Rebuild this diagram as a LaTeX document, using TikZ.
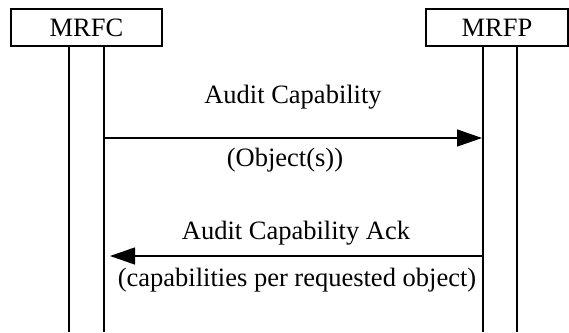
\documentclass[tikz,border=0pt]{standalone}
\usepackage{fontspec}
\setmainfont{Liberation Serif}
\usetikzlibrary{arrows.meta}
\tikzset{
    entity/.style={draw, line width=1.3pt, minimum width=#1, minimum height=37pt, inner sep=0pt, font=\fontsize{26.5}{30}\selectfont},
    msg/.style={line width=1.3pt, -{Triangle[length=25pt,width=17pt]}},
    lbl/.style={font=\fontsize{26.5}{30}\selectfont, inner sep=0pt}
}
\begin{document}
\begin{tikzpicture}[x=1pt, y=-1pt]
    \useasboundingbox (0,0) rectangle (569,332);
    \node[entity=151pt] (mrfc) at (86.5,27.5) {MRFC};
    \node[entity=142pt] (mrfp) at (497,27.5) {MRFP};
    % lifelines
    \foreach \n/\x in {mrfcl/69, mrfcr/104, mrfpl/483, mrfpr/517}
    {
        \coordinate (\n) at (\x,46);
        \coordinate (\n b) at (\x,332);
        \draw[line width=1.3pt] (\n) -- (\n b);
    }
    % messages
    \coordinate (m1s) at (104,138);
    \coordinate (m1e) at (482,138);
    \coordinate (m2s) at (483,256);
    \coordinate (m2e) at (110,256);
    \draw[msg] (m1s) -- (m1e);
    \draw[msg] (m2s) -- (m2e);
    \node[lbl] (m1t) at (293,97) {Audit Capability};
    \node[lbl] (m1b) at (285,160) {(Object(s))};
    \node[lbl] (m2t) at (296,233) {Audit Capability Ack};
    \node[lbl] (m2b) at (297,280) {(capabilities per requested object)};
\end{tikzpicture}
\end{document}
